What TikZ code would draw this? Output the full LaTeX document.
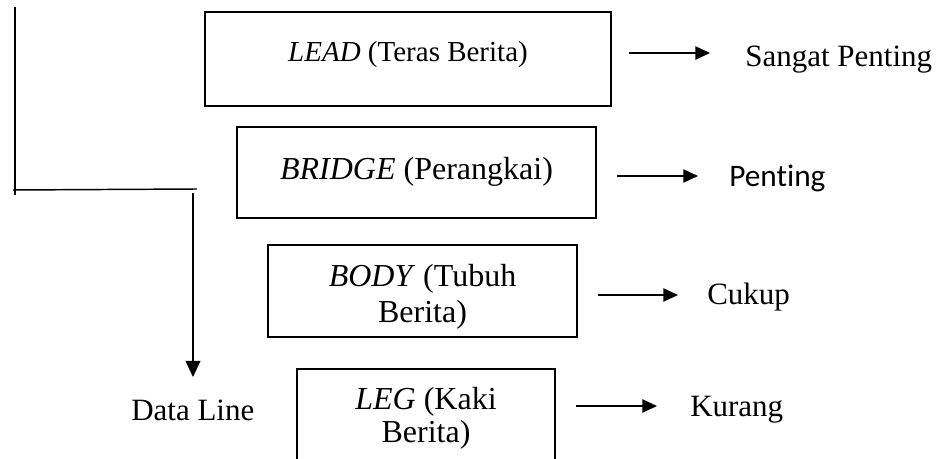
\documentclass[tikz,border=0pt]{standalone}
\usepackage{fontspec}
\setmainfont{Liberation Serif}
\newfontfamily\calibri[Ligatures=NoCommon]{Carlito}
\usetikzlibrary{arrows.meta,fit}
\begin{document}
\begin{tikzpicture}[x=0.75pt,y=-0.75pt,
  boxnode/.style={draw, line width=1.8pt, inner sep=0pt},
  lblA/.style={anchor=base, inner sep=0pt, font=\fontsize{21.75}{26}\selectfont},
  lblB/.style={anchor=base, inner sep=0pt, font=\fontsize{24}{28}\selectfont},
  outer/.style={anchor=base west, inner sep=0pt, font=\fontsize{23.25}{28}\selectfont},
  conn/.style={line width=1.1pt},
  arr/.style={line width=1pt, -{Triangle[length=11pt,width=10pt]}},
  darr/.style={line width=1.1pt, -{Triangle[length=12pt,width=11pt]}}
]
\useasboundingbox (0,0) rectangle (940,459);
\clip (0,0) rectangle (940,459);

% boxes
\node[boxnode, fit={(205,12) (611,106)}] (lead) {};
\node[boxnode, fit={(237,127) (596,218)}] (bridge) {};
\node[boxnode, fit={(268,245) (577,337)}] (body) {};
\node[boxnode, fit={(297,369) (555,490)}] (leg) {};

% box texts
\node[lblA] (leadT) at (408,62) {\textit{LEAD} (Teras Berita)};
\node[lblB] (bridgeT) at (416.5,180) {\textit{BRIDGE} (Perangkai)};
\node[lblB] (bodyT1) at (422.5,287) {\textit{BODY} (Tubuh};
\node[lblB] (bodyT2) at (422.5,323) {Berita)};
\node[lblB] (legT1) at (426,410) {\textit{LEG} (Kaki};
\node[lblB] (legT2) at (426,443) {Berita)};

% right labels
\node[outer] (sangat) at (745,67) {Sangat Penting};
\node[outer, font=\calibri\fontsize{23.5}{28}\selectfont] (penting) at (729,187) {Penting};
\node[outer] (cukup) at (707,305) {Cukup};
\node[outer] (kurang) at (690,417) {Kurang};
\node[outer] (dataline) at (131,421) {Data Line};

% right arrows
\coordinate (a1s) at (629,53);  \coordinate (a1e) at (710,53);
\coordinate (a2s) at (617,176); \coordinate (a2e) at (698,176);
\coordinate (a3s) at (598,295); \coordinate (a3e) at (678,295);
\coordinate (a4s) at (576,406); \coordinate (a4e) at (657,406);
\draw[arr] (a1s) -- (a1e);
\draw[arr] (a2s) -- (a2e);
\draw[arr] (a3s) -- (a3e);
\draw[arr] (a4s) -- (a4e);

% left lines
\coordinate (ltop) at (15,7);   \coordinate (lbot) at (15,195);
\coordinate (hl) at (13,190);   \coordinate (hr) at (197,189);
\coordinate (dtop) at (193,193); \coordinate (dend) at (193,377);
\draw[conn] (ltop) -- (lbot);
\draw[conn] (hl) -- (hr);
\draw[darr] (dtop) -- (dend);
\end{tikzpicture}
\end{document}
